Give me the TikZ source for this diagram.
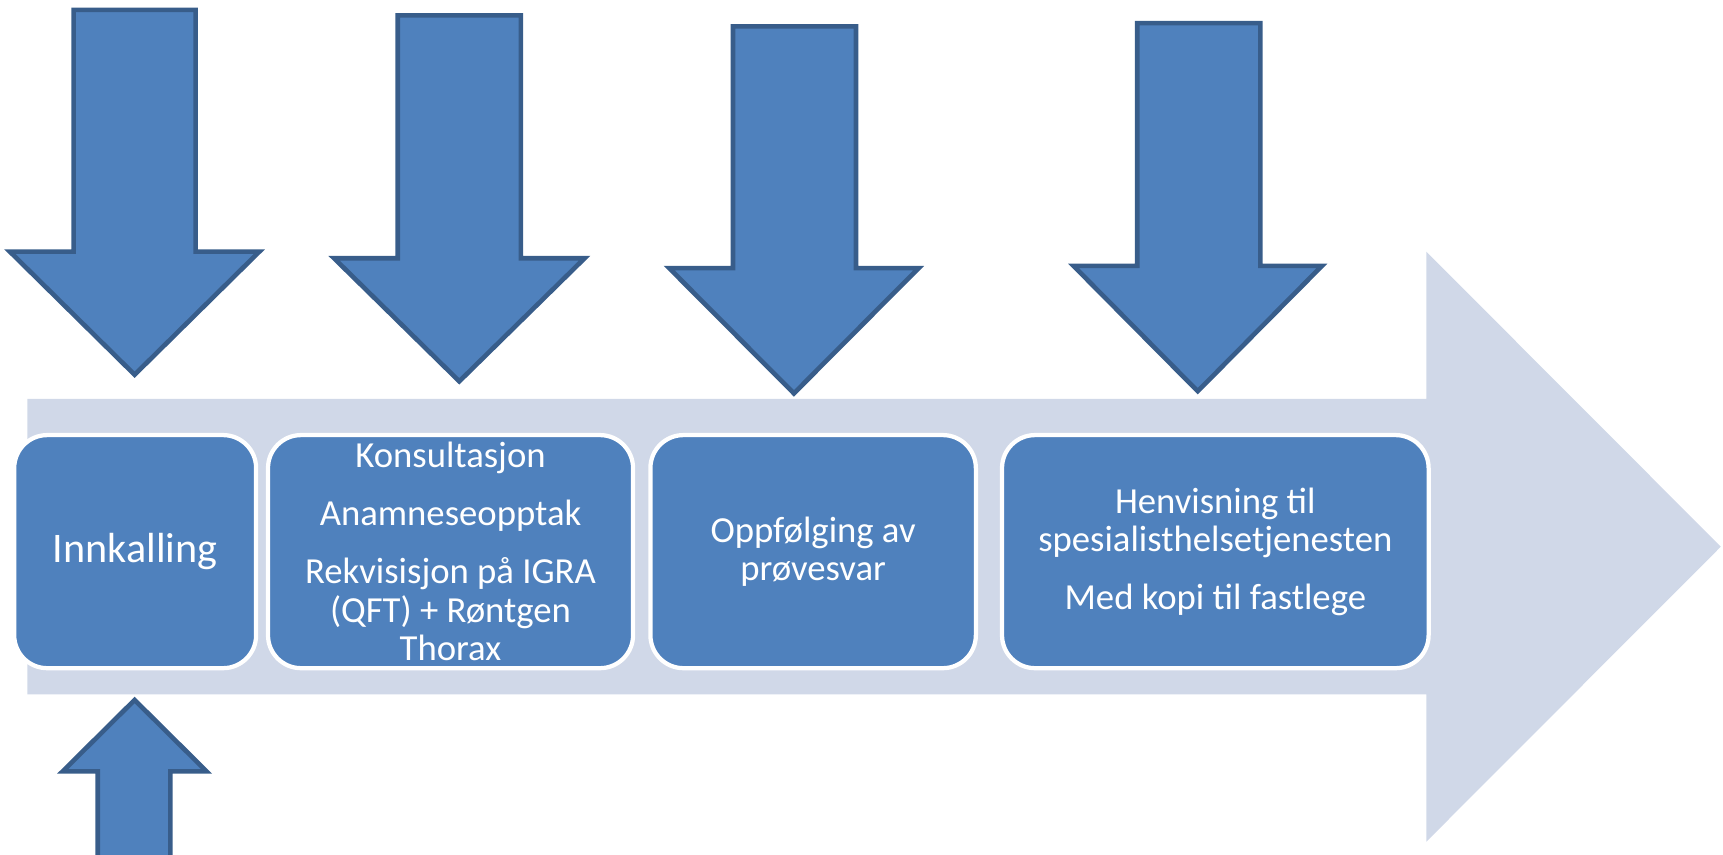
\documentclass[tikz,border=0pt]{standalone}
\usepackage{fontspec}
\setmainfont{Carlito}
\definecolor{bgarrow}{HTML}{D0D8E8}
\definecolor{boxblue}{HTML}{4F81BD}
\definecolor{arrowline}{HTML}{385D8A}
\newcommand\dnarr[7]{\draw[blockarrow] (#1,#3) -- (#2,#3) -- (#2,#4) -- (#6,#4) -- ({(#5+#6)/2},#7) -- (#5,#4) -- (#1,#4) -- cycle;}
\begin{document}
\begin{tikzpicture}[x=0.01cm,y=-0.01cm,
  stepbox/.style={draw=white, line width=1.1pt, fill=boxblue, rounded corners=0.3cm,
    inner sep=0pt, minimum height=2.12cm, text=white, align=center,
    font=\fontsize{9.5pt}{9.96pt}\selectfont},
  blockarrow/.style={fill=boxblue, draw=arrowline, line width=1.2pt, line join=miter}]
\useasboundingbox (0,0) rectangle (1568,778);
% background process arrow
\fill[bgarrow] (25,363) -- (1298,363) -- (1298,229) -- (1566,497.5) -- (1298,766) -- (1298,632) -- (25,632) -- cycle;
% step boxes
\node[stepbox, minimum width=2.2cm, font=\fontsize{10.9pt}{12pt}\selectfont] (b1) at (123,502) {Innkalling};
\node[stepbox, minimum width=3.32cm] (b2) at (410,502) {Konsultasjon\\[5pt]Anamneseopptak\\[5pt]Rekvisisjon på IGRA\\(QFT) + Røntgen\\Thorax};
\node[stepbox, minimum width=2.96cm] (b3) at (740,502) {Oppfølging av\\prøvesvar};
\node[stepbox, minimum width=3.88cm] (b4) at (1106,502) {Henvisning til\\spesialisthelsetjenesten\\[5pt]Med kopi til fastlege};
% down arrows
\dnarr{67}{178}{9}{229}{9}{236}{341}
\dnarr{362}{474}{14}{235}{304}{532}{347}
\dnarr{667}{779}{24}{244}{609}{836}{358}
\dnarr{1035}{1147}{21}{242}{977}{1203}{356}
% up arrow
\draw[blockarrow] (89,800) -- (89,702) -- (57,702) -- (122.5,637) -- (188,702) -- (155,702) -- (155,800) -- cycle;
\end{tikzpicture}
\end{document}
